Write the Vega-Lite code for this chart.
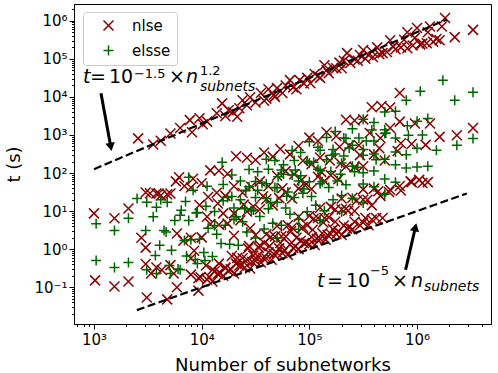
{
"$schema": "https://vega.github.io/schema/vega-lite/v6.json",
"width": 417, "height": 320,
"autosize": {"type": "none"},
"padding": {"left": 74, "top": 4, "right": 7, "bottom": 49},
"config": {
 "view": {"stroke": "black", "strokeWidth": 1},
 "font": "DejaVu Sans",
 "axis": {"domainColor": "black", "tickColor": "black", "labelColor": "black", "titleColor": "black", "labelFont": "DejaVu Sans", "titleFont": "DejaVu Sans", "labelFontSize": 15, "titleFontSize": 18, "titleFontWeight": "normal", "grid": false, "tickWidth": 1, "domainWidth": 1, "labelOverlap": false, "labelBound": false, "labelFlush": false}
},
"datasets": {
 "pts": [
{"n":2570,"t":813,"s":"nlse"},{"n":3550,"t":562,"s":"nlse"},{"n":5130,"t":1096,"s":"nlse"},{"n":6310,"t":1514,"s":"nlse"},{"n":7760,"t":2455,"s":"nlse"},{"n":8130,"t":1175,"s":"nlse"},{"n":9550,"t":2754,"s":"nlse"},{"n":10230,"t":1905,"s":"nlse"},{"n":11220,"t":2239,"s":"nlse"},{"n":13800,"t":3715,"s":"nlse"},{"n":15490,"t":6761,"s":"nlse"},{"n":16600,"t":3162,"s":"nlse"},{"n":19500,"t":3981,"s":"nlse"},{"n":23990,"t":8128,"s":"nlse"},{"n":22390,"t":5012,"s":"nlse"},{"n":28180,"t":9772,"s":"nlse"},{"n":31620,"t":7079,"s":"nlse"},{"n":35480,"t":12590,"s":"nlse"},{"n":39810,"t":8913,"s":"nlse"},{"n":41690,"t":15850,"s":"nlse"},{"n":50120,"t":16980,"s":"nlse"},{"n":56230,"t":12590,"s":"nlse"},{"n":66070,"t":27540,"s":"nlse"},{"n":70790,"t":17780,"s":"nlse"},{"n":81280,"t":27540,"s":"nlse"},{"n":89130,"t":22390,"s":"nlse"},{"n":102300,"t":22910,"s":"nlse"},{"n":112200,"t":39810,"s":"nlse"},{"n":125900,"t":31620,"s":"nlse"},{"n":138000,"t":67610,"s":"nlse"},{"n":151400,"t":41690,"s":"nlse"},{"n":166000,"t":57540,"s":"nlse"},{"n":190500,"t":79430,"s":"nlse"},{"n":223900,"t":141300,"s":"nlse"},{"n":239900,"t":77620,"s":"nlse"},{"n":263000,"t":95500,"s":"nlse"},{"n":316200,"t":169800,"s":"nlse"},{"n":331100,"t":100000,"s":"nlse"},{"n":389000,"t":112200,"s":"nlse"},{"n":426600,"t":199500,"s":"nlse"},{"n":478600,"t":141300,"s":"nlse"},{"n":524800,"t":151400,"s":"nlse"},{"n":562300,"t":309000,"s":"nlse"},{"n":631000,"t":177800,"s":"nlse"},{"n":707900,"t":199500,"s":"nlse"},{"n":812800,"t":501200,"s":"nlse"},{"n":812800,"t":190500,"s":"nlse"},{"n":912000,"t":223900,"s":"nlse"},{"n":1000000,"t":645700,"s":"nlse"},{"n":1122000,"t":251200,"s":"nlse"},{"n":1230000,"t":257000,"s":"nlse"},{"n":1318000,"t":707900,"s":"nlse"},{"n":1413000,"t":281800,"s":"nlse"},{"n":1622000,"t":309000,"s":"nlse"},{"n":1820000,"t":1175000,"s":"nlse"},{"n":2239000,"t":371500,"s":"nlse"},{"n":3311000,"t":575400,"s":"nlse"},{"n":26300,"t":6026,"s":"nlse"},{"n":46770,"t":11220,"s":"nlse"},{"n":60260,"t":19950,"s":"nlse"},{"n":177800,"t":56230,"s":"nlse"},{"n":281800,"t":89130,"s":"nlse"},{"n":354800,"t":125900,"s":"nlse"},
{"n":38020,"t":7943,"s":"nlse"},{"n":47860,"t":10000,"s":"nlse"},{"n":75860,"t":15850,"s":"nlse"},{"n":95500,"t":31620,"s":"nlse"},{"n":120200,"t":35480,"s":"nlse"},{"n":144500,"t":50120,"s":"nlse"},{"n":199500,"t":56230,"s":"nlse"},{"n":208900,"t":89130,"s":"nlse"},{"n":295100,"t":125900,"s":"nlse"},{"n":380200,"t":158500,"s":"nlse"},{"n":446700,"t":131800,"s":"nlse"},{"n":602600,"t":208900,"s":"nlse"},{"n":758600,"t":316200,"s":"nlse"},{"n":955000,"t":354800,"s":"nlse"},{"n":1072000,"t":239900,"s":"nlse"},{"n":1259000,"t":501200,"s":"nlse"},{"n":1514000,"t":331100,"s":"nlse"},{"n":1698000,"t":707900,"s":"nlse"},{"n":17780,"t":4467,"s":"nlse"},{"n":21380,"t":3020,"s":"nlse"},{"n":4169,"t":707.9,"s":"nlse"},
{"n":11220,"t":0.1585,"s":"nlse"},{"n":12590,"t":0.1413,"s":"nlse"},{"n":14130,"t":0.2239,"s":"nlse"},{"n":15850,"t":0.1995,"s":"nlse"},{"n":17780,"t":0.2692,"s":"nlse"},{"n":19950,"t":0.2291,"s":"nlse"},{"n":22390,"t":0.3715,"s":"nlse"},{"n":25120,"t":0.3311,"s":"nlse"},{"n":28180,"t":0.309,"s":"nlse"},{"n":31620,"t":0.4898,"s":"nlse"},{"n":35480,"t":0.4467,"s":"nlse"},{"n":39810,"t":0.5754,"s":"nlse"},{"n":44670,"t":0.5248,"s":"nlse"},{"n":50120,"t":0.7943,"s":"nlse"},{"n":56230,"t":0.7762,"s":"nlse"},{"n":63100,"t":0.7079,"s":"nlse"},{"n":70790,"t":1.072,"s":"nlse"},{"n":79430,"t":1.0,"s":"nlse"},{"n":89130,"t":1.445,"s":"nlse"},{"n":100000,"t":1.349,"s":"nlse"},{"n":112200,"t":1.288,"s":"nlse"},{"n":125900,"t":1.862,"s":"nlse"},{"n":141300,"t":1.778,"s":"nlse"},{"n":158500,"t":2.512,"s":"nlse"},{"n":177800,"t":2.512,"s":"nlse"},{"n":199500,"t":2.344,"s":"nlse"},{"n":223900,"t":3.467,"s":"nlse"},{"n":251200,"t":3.311,"s":"nlse"},{"n":295100,"t":4.266,"s":"nlse"},{"n":354800,"t":4.266,"s":"nlse"},{"n":416900,"t":6.607,"s":"nlse"},{"n":478600,"t":6.607,"s":"nlse"},{"n":3090,"t":0.0537,"s":"nlse"},{"n":4786,"t":0.0479,"s":"nlse"},{"n":5888,"t":0.1,"s":"nlse"},{"n":9333,"t":0.0813,"s":"nlse"},{"n":1023,"t":0.1514,"s":"nlse"},{"n":1549,"t":0.1047,"s":"nlse"},{"n":2089,"t":0.1413,"s":"nlse"},
{"n":13180,"t":0.263,"s":"nlse"},{"n":16600,"t":0.3311,"s":"nlse"},{"n":20890,"t":0.4169,"s":"nlse"},{"n":26300,"t":0.5248,"s":"nlse"},{"n":33110,"t":0.6607,"s":"nlse"},{"n":41690,"t":0.8318,"s":"nlse"},{"n":52480,"t":1.047,"s":"nlse"},{"n":66070,"t":1.318,"s":"nlse"},{"n":83180,"t":1.66,"s":"nlse"},{"n":104700,"t":2.089,"s":"nlse"},{"n":131800,"t":2.63,"s":"nlse"},{"n":166000,"t":3.311,"s":"nlse"},{"n":208900,"t":4.169,"s":"nlse"},{"n":263000,"t":5.248,"s":"nlse"},{"n":331100,"t":6.607,"s":"nlse"},
{"n":11750,"t":0.1862,"s":"nlse"},{"n":14790,"t":0.2344,"s":"nlse"},{"n":18620,"t":0.2951,"s":"nlse"},{"n":23440,"t":0.3715,"s":"nlse"},{"n":29510,"t":0.4677,"s":"nlse"},{"n":37150,"t":0.5888,"s":"nlse"},{"n":46770,"t":0.7413,"s":"nlse"},{"n":58880,"t":0.9333,"s":"nlse"},{"n":74130,"t":1.175,"s":"nlse"},{"n":93330,"t":1.479,"s":"nlse"},{"n":117500,"t":1.862,"s":"nlse"},{"n":147900,"t":2.344,"s":"nlse"},{"n":186200,"t":2.951,"s":"nlse"},{"n":234400,"t":3.715,"s":"nlse"},{"n":316200,"t":5.012,"s":"nlse"},{"n":380200,"t":6.026,"s":"nlse"},
{"n":7943,"t":0.214,"s":"nlse"},{"n":9333,"t":0.174,"s":"nlse"},{"n":10960,"t":0.372,"s":"nlse"},{"n":12590,"t":0.288,"s":"nlse"},{"n":14450,"t":0.417,"s":"nlse"},{"n":16600,"t":0.316,"s":"nlse"},{"n":19050,"t":0.661,"s":"nlse"},{"n":21380,"t":0.589,"s":"nlse"},{"n":23990,"t":0.575,"s":"nlse"},{"n":26920,"t":1.047,"s":"nlse"},{"n":30200,"t":0.676,"s":"nlse"},{"n":33880,"t":1.096,"s":"nlse"},{"n":38020,"t":1.445,"s":"nlse"},{"n":42660,"t":1.202,"s":"nlse"},{"n":47860,"t":2.138,"s":"nlse"},{"n":53700,"t":1.445,"s":"nlse"},{"n":60260,"t":2.138,"s":"nlse"},{"n":67610,"t":2.951,"s":"nlse"},{"n":75860,"t":1.995,"s":"nlse"},{"n":85110,"t":3.548,"s":"nlse"},{"n":95500,"t":4.266,"s":"nlse"},{"n":107200,"t":3.236,"s":"nlse"},{"n":120200,"t":6.607,"s":"nlse"},{"n":134900,"t":5.012,"s":"nlse"},{"n":151400,"t":6.918,"s":"nlse"},{"n":173800,"t":5.248,"s":"nlse"},{"n":199500,"t":10.96,"s":"nlse"},{"n":229100,"t":10.23,"s":"nlse"},{"n":263000,"t":10.0,"s":"nlse"},{"n":316200,"t":19.95,"s":"nlse"},{"n":380200,"t":14.13,"s":"nlse"},{"n":457100,"t":25.12,"s":"nlse"},{"n":562300,"t":36.31,"s":"nlse"},{"n":707900,"t":34.67,"s":"nlse"},{"n":891300,"t":57.54,"s":"nlse"},{"n":1122000,"t":54.95,"s":"nlse"},{"n":1259000,"t":57.54,"s":"nlse"},
{"n":27540,"t":1.202,"s":"nlse"},{"n":34670,"t":1.259,"s":"nlse"},{"n":43650,"t":2.089,"s":"nlse"},{"n":54950,"t":2.188,"s":"nlse"},{"n":69180,"t":3.631,"s":"nlse"},{"n":87100,"t":3.802,"s":"nlse"},{"n":109600,"t":6.31,"s":"nlse"},{"n":138000,"t":6.607,"s":"nlse"},{"n":173800,"t":10.96,"s":"nlse"},{"n":218800,"t":11.48,"s":"nlse"},{"n":275400,"t":19.05,"s":"nlse"},{"n":346700,"t":19.95,"s":"nlse"},{"n":436500,"t":33.11,"s":"nlse"},{"n":549500,"t":31.62,"s":"nlse"},{"n":691800,"t":45.71,"s":"nlse"},{"n":871000,"t":60.26,"s":"nlse"},{"n":1047000,"t":66.07,"s":"nlse"},
{"n":31620,"t":2.344,"s":"nlse"},{"n":39810,"t":2.455,"s":"nlse"},{"n":50120,"t":4.074,"s":"nlse"},{"n":63100,"t":4.266,"s":"nlse"},{"n":79430,"t":7.079,"s":"nlse"},{"n":100000,"t":7.413,"s":"nlse"},{"n":125900,"t":12.3,"s":"nlse"},{"n":158500,"t":12.88,"s":"nlse"},{"n":199500,"t":21.38,"s":"nlse"},{"n":251200,"t":22.39,"s":"nlse"},{"n":316200,"t":37.15,"s":"nlse"},{"n":398100,"t":38.9,"s":"nlse"},
{"n":10000,"t":2.042,"s":"nlse"},{"n":12020,"t":4.571,"s":"nlse"},{"n":14450,"t":4.365,"s":"nlse"},{"n":17380,"t":4.677,"s":"nlse"},{"n":19950,"t":8.71,"s":"nlse"},{"n":22910,"t":5.754,"s":"nlse"},{"n":26300,"t":9.772,"s":"nlse"},{"n":30200,"t":13.18,"s":"nlse"},{"n":34670,"t":11.22,"s":"nlse"},{"n":39810,"t":20.42,"s":"nlse"},{"n":45710,"t":14.13,"s":"nlse"},{"n":52480,"t":21.88,"s":"nlse"},{"n":60260,"t":30.9,"s":"nlse"},{"n":69180,"t":21.38,"s":"nlse"},{"n":79430,"t":38.9,"s":"nlse"},{"n":91200,"t":47.86,"s":"nlse"},{"n":104700,"t":38.02,"s":"nlse"},{"n":120200,"t":79.43,"s":"nlse"},{"n":138000,"t":61.66,"s":"nlse"},{"n":158500,"t":87.1,"s":"nlse"},{"n":186200,"t":69.18,"s":"nlse"},{"n":218800,"t":147.9,"s":"nlse"},{"n":263000,"t":144.5,"s":"nlse"},{"n":316200,"t":151.4,"s":"nlse"},{"n":398100,"t":309,"s":"nlse"},{"n":501200,"t":213.8,"s":"nlse"},{"n":660700,"t":380.2,"s":"nlse"},{"n":891300,"t":575.4,"s":"nlse"},{"n":1202000,"t":549.5,"s":"nlse"},{"n":1622000,"t":891.3,"s":"nlse"},{"n":2344000,"t":977.2,"s":"nlse"},{"n":3311000,"t":1514,"s":"nlse"},
{"n":15850,"t":8.71,"s":"nlse"},{"n":24550,"t":14.79,"s":"nlse"},{"n":37150,"t":24.55,"s":"nlse"},{"n":56230,"t":39.81,"s":"nlse"},{"n":85110,"t":66.07,"s":"nlse"},{"n":128800,"t":107.2,"s":"nlse"},{"n":195000,"t":177.8,"s":"nlse"},{"n":295100,"t":295.1,"s":"nlse"},{"n":446700,"t":446.7,"s":"nlse"},{"n":707900,"t":602.6,"s":"nlse"},
{"n":9550,"t":14.45,"s":"nlse"},{"n":11480,"t":23.44,"s":"nlse"},{"n":13800,"t":30.2,"s":"nlse"},{"n":16600,"t":25.12,"s":"nlse"},{"n":19950,"t":44.67,"s":"nlse"},{"n":23990,"t":30.2,"s":"nlse"},{"n":28840,"t":43.65,"s":"nlse"},{"n":34670,"t":60.26,"s":"nlse"},{"n":41690,"t":44.67,"s":"nlse"},{"n":50120,"t":85.11,"s":"nlse"},{"n":60260,"t":112.2,"s":"nlse"},{"n":72440,"t":93.33,"s":"nlse"},{"n":87100,"t":208.9,"s":"nlse"},{"n":104700,"t":169.8,"s":"nlse"},{"n":125900,"t":257,"s":"nlse"},{"n":154900,"t":213.8,"s":"nlse"},{"n":190500,"t":489.8,"s":"nlse"},{"n":234400,"t":524.8,"s":"nlse"},{"n":288400,"t":537,"s":"nlse"},{"n":363100,"t":1122,"s":"nlse"},{"n":457100,"t":831.8,"s":"nlse"},{"n":562300,"t":1514,"s":"nlse"},{"n":691800,"t":2239,"s":"nlse"},{"n":955000,"t":1995,"s":"nlse"},{"n":1318000,"t":1995,"s":"nlse"},
{"n":3311,"t":29.51,"s":"nlse"},{"n":3981,"t":28.84,"s":"nlse"},{"n":4786,"t":27.54,"s":"nlse"},{"n":5754,"t":60.26,"s":"nlse"},{"n":6918,"t":45.71,"s":"nlse"},{"n":8318,"t":70.79,"s":"nlse"},{"n":10000,"t":53.7,"s":"nlse"},{"n":12020,"t":117.5,"s":"nlse"},{"n":14450,"t":114.8,"s":"nlse"},{"n":17380,"t":95.5,"s":"nlse"},{"n":20890,"t":275.4,"s":"nlse"},{"n":26300,"t":251.2,"s":"nlse"},{"n":31620,"t":218.8,"s":"nlse"},{"n":38020,"t":346.7,"s":"nlse"},{"n":45710,"t":269.2,"s":"nlse"},{"n":53700,"t":426.6,"s":"nlse"},{"n":66070,"t":309,"s":"nlse"},{"n":79430,"t":512.9,"s":"nlse"},{"n":100000,"t":851.1,"s":"nlse"},{"n":120200,"t":691.8,"s":"nlse"},{"n":144500,"t":1175,"s":"nlse"},{"n":177800,"t":933.3,"s":"nlse"},{"n":218800,"t":2512,"s":"nlse"},{"n":263000,"t":2399,"s":"nlse"},{"n":316200,"t":2570,"s":"nlse"},{"n":380200,"t":5370,"s":"nlse"},{"n":467700,"t":5754,"s":"nlse"},{"n":562300,"t":5248,"s":"nlse"},{"n":691800,"t":12590,"s":"nlse"},
{"n":1000,"t":8.71,"s":"nlse"},{"n":1549,"t":6.457,"s":"nlse"},{"n":2089,"t":11.75,"s":"nlse"},{"n":3020,"t":30.9,"s":"nlse"},{"n":3802,"t":28.84,"s":"nlse"},{"n":4169,"t":25.7,"s":"nlse"},{"n":5129,"t":28.84,"s":"nlse"},{"n":6166,"t":77.62,"s":"nlse"},{"n":7943,"t":41.69,"s":"nlse"},{"n":2754,"t":1.995,"s":"nlse"},{"n":3020,"t":1.096,"s":"nlse"},{"n":5888,"t":2.57,"s":"nlse"},{"n":6761,"t":1.66,"s":"nlse"},{"n":7943,"t":1.995,"s":"nlse"},{"n":8511,"t":0.912,"s":"nlse"},{"n":3020,"t":0.4074,"s":"nlse"},{"n":3388,"t":0.2291,"s":"nlse"},{"n":3802,"t":0.3311,"s":"nlse"},{"n":4266,"t":0.2818,"s":"nlse"},{"n":5129,"t":0.3802,"s":"nlse"},{"n":5495,"t":0.2291,"s":"nlse"},{"n":7943,"t":0.5754,"s":"nlse"},{"n":9772,"t":0.182,"s":"nlse"},{"n":11220,"t":7.079,"s":"nlse"},{"n":14130,"t":15.85,"s":"nlse"},{"n":19950,"t":2.239,"s":"nlse"},{"n":28180,"t":3.548,"s":"nlse"},
{"n":5012,"t":0.3715,"s":"elsse"},{"n":6026,"t":0.302,"s":"elsse"},{"n":7244,"t":0.661,"s":"elsse"},{"n":8710,"t":0.537,"s":"elsse"},{"n":10470,"t":0.813,"s":"elsse"},{"n":12590,"t":0.6457,"s":"elsse"},{"n":15140,"t":1.413,"s":"elsse"},{"n":18200,"t":1.349,"s":"elsse"},{"n":21880,"t":1.259,"s":"elsse"},{"n":26300,"t":2.818,"s":"elsse"},{"n":31620,"t":1.95,"s":"elsse"},{"n":38020,"t":3.388,"s":"elsse"},{"n":45710,"t":4.786,"s":"elsse"},{"n":54950,"t":4.266,"s":"elsse"},{"n":66070,"t":8.318,"s":"elsse"},{"n":79430,"t":6.026,"s":"elsse"},{"n":95500,"t":9.55,"s":"elsse"},{"n":114800,"t":14.13,"s":"elsse"},{"n":138000,"t":10.23,"s":"elsse"},{"n":166000,"t":19.95,"s":"elsse"},{"n":199500,"t":25.7,"s":"elsse"},{"n":251200,"t":21.88,"s":"elsse"},{"n":316200,"t":51.29,"s":"elsse"},{"n":398100,"t":43.65,"s":"elsse"},{"n":501200,"t":69.18,"s":"elsse"},{"n":631000,"t":57.54,"s":"elsse"},{"n":794300,"t":134.9,"s":"elsse"},{"n":1000000,"t":144.5,"s":"elsse"},{"n":1259000,"t":151.4,"s":"elsse"},
{"n":50120,"t":1.95,"s":"elsse"},{"n":79430,"t":3.311,"s":"elsse"},{"n":125900,"t":5.623,"s":"elsse"},{"n":199500,"t":9.55,"s":"elsse"},{"n":316200,"t":16.22,"s":"elsse"},{"n":501200,"t":27.54,"s":"elsse"},
{"n":7943,"t":1.778,"s":"elsse"},{"n":9550,"t":1.82,"s":"elsse"},{"n":11480,"t":3.548,"s":"elsse"},{"n":13800,"t":2.455,"s":"elsse"},{"n":16600,"t":4.266,"s":"elsse"},{"n":19950,"t":6.026,"s":"elsse"},{"n":23990,"t":5.248,"s":"elsse"},{"n":28840,"t":10,"s":"elsse"},{"n":34670,"t":7.244,"s":"elsse"},{"n":41690,"t":11.48,"s":"elsse"},{"n":50120,"t":16.98,"s":"elsse"},{"n":60260,"t":12.02,"s":"elsse"},{"n":72440,"t":22.91,"s":"elsse"},{"n":87100,"t":29.51,"s":"elsse"},{"n":104700,"t":23.99,"s":"elsse"},{"n":125900,"t":52.48,"s":"elsse"},{"n":151400,"t":41.69,"s":"elsse"},{"n":182000,"t":61.66,"s":"elsse"},{"n":218800,"t":48.98,"s":"elsse"},{"n":263000,"t":107.2,"s":"elsse"},{"n":316200,"t":102.3,"s":"elsse"},{"n":398100,"t":112.2,"s":"elsse"},{"n":501200,"t":229.1,"s":"elsse"},{"n":631000,"t":166,"s":"elsse"},{"n":794300,"t":302,"s":"elsse"},{"n":1000000,"t":446.7,"s":"elsse"},{"n":1514000,"t":398.1,"s":"elsse"},{"n":2344000,"t":537,"s":"elsse"},{"n":3311000,"t":812.8,"s":"elsse"},
{"n":6310,"t":7.762,"s":"elsse"},{"n":7586,"t":5.623,"s":"elsse"},{"n":9120,"t":9.12,"s":"elsse"},{"n":10960,"t":13.49,"s":"elsse"},{"n":13180,"t":9.772,"s":"elsse"},{"n":15850,"t":18.62,"s":"elsse"},{"n":19050,"t":23.99,"s":"elsse"},{"n":22910,"t":19.95,"s":"elsse"},{"n":27540,"t":43.65,"s":"elsse"},{"n":33110,"t":35.48,"s":"elsse"},{"n":39810,"t":52.48,"s":"elsse"},{"n":47860,"t":41.69,"s":"elsse"},{"n":57540,"t":93.33,"s":"elsse"},{"n":69180,"t":89.13,"s":"elsse"},{"n":83180,"t":85.11,"s":"elsse"},{"n":100000,"t":182,"s":"elsse"},{"n":120200,"t":125.9,"s":"elsse"},{"n":144500,"t":223.9,"s":"elsse"},{"n":173800,"t":316.2,"s":"elsse"},{"n":208900,"t":281.8,"s":"elsse"},{"n":251200,"t":537,"s":"elsse"},{"n":316200,"t":416.9,"s":"elsse"},{"n":398100,"t":691.8,"s":"elsse"},{"n":501200,"t":1096,"s":"elsse"},{"n":631000,"t":831.8,"s":"elsse"},{"n":812800,"t":1738,"s":"elsse"},{"n":1000000,"t":2291,"s":"elsse"},{"n":1259000,"t":2692,"s":"elsse"},
{"n":15850,"t":50.12,"s":"elsse"},{"n":19050,"t":89.13,"s":"elsse"},{"n":22910,"t":61.66,"s":"elsse"},{"n":27540,"t":123,"s":"elsse"},{"n":33110,"t":107.2,"s":"elsse"},{"n":39810,"t":229.1,"s":"elsse"},{"n":47860,"t":213.8,"s":"elsse"},{"n":57540,"t":166,"s":"elsse"},{"n":69180,"t":389,"s":"elsse"},{"n":83180,"t":346.7,"s":"elsse"},{"n":100000,"t":660.7,"s":"elsse"},{"n":120200,"t":478.6,"s":"elsse"},{"n":144500,"t":851.1,"s":"elsse"},{"n":173800,"t":1230,"s":"elsse"},{"n":208900,"t":831.8,"s":"elsse"},{"n":251200,"t":1445,"s":"elsse"},{"n":316200,"t":2570,"s":"elsse"},{"n":398100,"t":2138,"s":"elsse"},{"n":501200,"t":3981,"s":"elsse"},{"n":631000,"t":4169,"s":"elsse"},{"n":794300,"t":8128,"s":"elsse"},{"n":1072000,"t":14130,"s":"elsse"},{"n":1738000,"t":27540,"s":"elsse"},{"n":2239000,"t":8128,"s":"elsse"},{"n":3311000,"t":13180,"s":"elsse"},
{"n":19950,"t":12.02,"s":"elsse"},{"n":25120,"t":11.48,"s":"elsse"},{"n":31620,"t":22.91,"s":"elsse"},{"n":39810,"t":21.38,"s":"elsse"},{"n":50120,"t":40.74,"s":"elsse"},{"n":63100,"t":31.62,"s":"elsse"},{"n":79430,"t":61.66,"s":"elsse"},{"n":100000,"t":58.88,"s":"elsse"},{"n":125900,"t":114.8,"s":"elsse"},{"n":158500,"t":109.6,"s":"elsse"},{"n":199500,"t":182,"s":"elsse"},{"n":251200,"t":151.4,"s":"elsse"},{"n":316200,"t":295.1,"s":"elsse"},{"n":398100,"t":316.2,"s":"elsse"},
{"n":31620,"t":60.26,"s":"elsse"},{"n":41690,"t":125.9,"s":"elsse"},{"n":54950,"t":120.2,"s":"elsse"},{"n":72440,"t":213.8,"s":"elsse"},{"n":95500,"t":204.2,"s":"elsse"},{"n":125900,"t":398.1,"s":"elsse"},{"n":166000,"t":416.9,"s":"elsse"},{"n":218800,"t":812.8,"s":"elsse"},{"n":288400,"t":831.8,"s":"elsse"},{"n":380200,"t":1349,"s":"elsse"},{"n":501200,"t":1380,"s":"elsse"},
{"n":13180,"t":4.169,"s":"elsse"},{"n":17380,"t":22.91,"s":"elsse"},{"n":20890,"t":7.079,"s":"elsse"},{"n":25700,"t":35.48,"s":"elsse"},{"n":30200,"t":10.72,"s":"elsse"},{"n":36310,"t":53.7,"s":"elsse"},{"n":43650,"t":16.6,"s":"elsse"},{"n":51290,"t":79.43,"s":"elsse"},{"n":61660,"t":24.55,"s":"elsse"},{"n":74130,"t":120.2,"s":"elsse"},{"n":89130,"t":38.02,"s":"elsse"},{"n":109600,"t":190.5,"s":"elsse"},{"n":131800,"t":58.88,"s":"elsse"},{"n":162200,"t":295.1,"s":"elsse"},{"n":195000,"t":93.33,"s":"elsse"},{"n":234400,"t":457.1,"s":"elsse"},{"n":281800,"t":141.3,"s":"elsse"},{"n":338800,"t":691.8,"s":"elsse"},{"n":416900,"t":223.9,"s":"elsse"},{"n":512900,"t":1122,"s":"elsse"},{"n":631000,"t":354.8,"s":"elsse"},{"n":831800,"t":977.2,"s":"elsse"},{"n":1122000,"t":1000,"s":"elsse"},
{"n":1047,"t":4.677,"s":"elsse"},{"n":1549,"t":3.09,"s":"elsse"},{"n":2089,"t":6.457,"s":"elsse"},{"n":2512,"t":21.38,"s":"elsse"},{"n":3090,"t":16.98,"s":"elsse"},{"n":3802,"t":12.59,"s":"elsse"},{"n":4467,"t":3.09,"s":"elsse"},{"n":3020,"t":3.09,"s":"elsse"},{"n":4786,"t":16.98,"s":"elsse"},{"n":6457,"t":10.47,"s":"elsse"},{"n":7586,"t":77.62,"s":"elsse"},{"n":1047,"t":0.5012,"s":"elsse"},{"n":1549,"t":0.3311,"s":"elsse"},{"n":2089,"t":0.4467,"s":"elsse"},{"n":3090,"t":0.2884,"s":"elsse"},{"n":3802,"t":0.2291,"s":"elsse"},{"n":6310,"t":0.2884,"s":"elsse"},{"n":5129,"t":0.2291,"s":"elsse"},{"n":9120,"t":0.4169,"s":"elsse"},{"n":10720,"t":0.5012,"s":"elsse"},{"n":4074,"t":1.259,"s":"elsse"},{"n":5248,"t":0.9333,"s":"elsse"},{"n":6918,"t":1.698,"s":"elsse"},{"n":3715,"t":0.6761,"s":"elsse"},{"n":4677,"t":2.818,"s":"elsse"},{"n":5623,"t":5.623,"s":"elsse"},{"n":3548,"t":7.079,"s":"elsse"},{"n":7079,"t":17.78,"s":"elsse"},{"n":8913,"t":8.913,"s":"elsse"},{"n":15490,"t":190.5,"s":"elsse"},{"n":4169,"t":19.95,"s":"elsse"},{"n":8318,"t":35.48,"s":"elsse"},{"n":11220,"t":44.67,"s":"elsse"}
 ],
 "lines": [
  {"line":"a","n":1000,"t":125.9},{"line":"a","n":1900000,"t":1083000},
  {"line":"b","n":2500,"t":0.025},{"line":"b","n":2900000,"t":29}
 ],
 "arrows": [
  {"n":1161,"t":12500,"n2":1432,"t2":486},
  {"n":783000,"t":0.287,"n2":966000,"t2":3.77}
 ]
},
"layer": [
 {
  "data": {"name": "pts"},
  "mark": {"type": "point", "filled": false, "strokeWidth": 1.5, "size": 100, "opacity": 1},
  "encoding": {
   "x": {"field": "n", "type": "quantitative",
    "scale": {"type": "log", "domain": [652, 4864000], "nice": false},
    "axis": {"title": "Number of subnetworks", "titlePadding": 9, "labelPadding": 3,
     "values": [700,800,900,1000,2000,3000,4000,5000,6000,7000,8000,9000,10000,20000,30000,40000,50000,60000,70000,80000,90000,100000,200000,300000,400000,500000,600000,700000,800000,900000,1000000,2000000,3000000,4000000],
     "labelExpr": "abs(log(datum.value)/LN10 - round(log(datum.value)/LN10)) < 0.001 ? '10' + ['⁰','¹','²','³','⁴','⁵','⁶'][round(log(datum.value)/LN10)] : ''",
     "tickSize": {"condition": {"test": "abs(log(datum.value)/LN10 - round(log(datum.value)/LN10)) < 0.001", "value": 5}, "value": 2.5}}},
   "y": {"field": "t", "type": "quantitative",
    "scale": {"type": "log", "domain": [0.01081, 2754000], "nice": false},
    "axis": {"title": "t (s)", "titlePadding": 10, "labelPadding": 2,
     "values": [0.02,0.03,0.04,0.05,0.06,0.07,0.08,0.09,0.1,0.2,0.3,0.4,0.5,0.6,0.7,0.8,0.9,1,2,3,4,5,6,7,8,9,10,20,30,40,50,60,70,80,90,100,200,300,400,500,600,700,800,900,1000,2000,3000,4000,5000,6000,7000,8000,9000,10000,20000,30000,40000,50000,60000,70000,80000,90000,100000,200000,300000,400000,500000,600000,700000,800000,900000,1000000,2000000],
     "labelExpr": "abs(log(datum.value)/LN10 - round(log(datum.value)/LN10)) < 0.001 ? '10' + ['⁻²','⁻¹','⁰','¹','²','³','⁴','⁵','⁶'][round(log(datum.value)/LN10) + 2] : ''",
     "tickSize": {"condition": {"test": "abs(log(datum.value)/LN10 - round(log(datum.value)/LN10)) < 0.001", "value": 5}, "value": 2.5}}},
   "color": {"field": "s", "type": "nominal", "scale": {"domain": ["nlse", "elsse"], "range": ["#8b0000", "#006400"]},
    "legend": {"title": null, "orient": "none", "legendX": 9, "legendY": 8, "padding": 6, "symbolOffset": 12, "labelOffset": 16, "rowPadding": 8, "labelFontSize": 15, "labelFont": "DejaVu Sans", "labelColor": "black", "symbolSize": 100, "symbolStrokeWidth": 1.5, "fillColor": "rgba(255,255,255,0.8)", "strokeColor": "#cccccc", "cornerRadius": 3}},
   "shape": {"field": "s", "type": "nominal", "scale": {"domain": ["nlse", "elsse"], "range": ["M-1,-1L1,1M-1,1L1,-1", "M-1,0L1,0M0,-1L0,1"]},
    "legend": {"title": null, "orient": "none", "legendX": 9, "legendY": 8, "padding": 6, "symbolOffset": 12, "labelOffset": 16, "rowPadding": 8, "labelFontSize": 15, "labelFont": "DejaVu Sans", "labelColor": "black", "symbolSize": 100, "symbolStrokeWidth": 1.5, "fillColor": "rgba(255,255,255,0.8)", "strokeColor": "#cccccc", "cornerRadius": 3}}
  }
 },
 {
  "data": {"name": "lines"},
  "mark": {"type": "line", "color": "black", "strokeWidth": 2.2, "strokeDash": [8, 3.5]},
  "encoding": {"x": {"field": "n", "type": "quantitative"}, "y": {"field": "t", "type": "quantitative"}, "detail": {"field": "line", "type": "nominal"}}
 },
 {
  "data": {"name": "arrows"},
  "mark": {"type": "rule", "color": "black", "strokeWidth": 3},
  "encoding": {"x": {"field": "n", "type": "quantitative"}, "y": {"field": "t", "type": "quantitative"}, "x2": {"field": "n2"}, "y2": {"field": "t2"}}
 },
 {
  "data": {"values": [{"n": 1432, "t": 486}]},
  "mark": {"type": "point", "shape": "triangle-up", "filled": true, "color": "black", "opacity": 1, "size": 90, "angle": 169.7},
  "encoding": {"x": {"field": "n", "type": "quantitative"}, "y": {"field": "t", "type": "quantitative"}}
 },
 {
  "data": {"values": [{"n": 966000, "t": 3.77}]},
  "mark": {"type": "point", "shape": "triangle-up", "filled": true, "color": "black", "opacity": 1, "size": 90, "angle": 13},
  "encoding": {"x": {"field": "n", "type": "quantitative"}, "y": {"field": "t", "type": "quantitative"}}
 },
 {
  "data": {"values": [{"n": 918, "t": 22960, "label": "="}, {"n": 1377, "t": 22960, "label": "10"}, {"n": 4966, "t": 22960, "label": "×"}, {"n": 145600, "t": 0.1042, "label": "="}, {"n": 218800, "t": 0.1042, "label": "10"}, {"n": 584800, "t": 0.1042, "label": "×"}]},
  "mark": {"type": "text", "align": "left", "baseline": "alphabetic", "font": "DejaVu Sans", "fontSize": 19, "color": "black"},
  "encoding": {"x": {"field": "n", "type": "quantitative"}, "y": {"field": "t", "type": "quantitative"}, "text": {"field": "label"}}
 },
 {
  "data": {"values": [{"n": 791, "t": 22960, "label": "t"}, {"n": 7145, "t": 22960, "label": "n"}, {"n": 117800, "t": 0.1042, "label": "t"}, {"n": 877000, "t": 0.1042, "label": "n"}]},
  "mark": {"type": "text", "align": "left", "baseline": "alphabetic", "font": "DejaVu Sans", "fontSize": 19, "fontStyle": "italic", "color": "black"},
  "encoding": {"x": {"field": "n", "type": "quantitative"}, "y": {"field": "t", "type": "quantitative"}, "text": {"field": "label"}}
 },
 {
  "data": {"values": [{"n": 2350, "t": 31050, "label": "−1.5"}, {"n": 9638, "t": 37000, "label": "1.2"}, {"n": 365600, "t": 0.2032, "label": "−5"}]},
  "mark": {"type": "text", "align": "left", "baseline": "alphabetic", "font": "DejaVu Sans", "fontSize": 13, "color": "black"},
  "encoding": {"x": {"field": "n", "type": "quantitative"}, "y": {"field": "t", "type": "quantitative"}, "text": {"field": "label"}}
 },
 {
  "data": {"values": [{"n": 9638, "t": 14130, "label": "subnets"}, {"n": 1159000, "t": 0.0818, "label": "subnets"}]},
  "mark": {"type": "text", "align": "left", "baseline": "alphabetic", "font": "DejaVu Sans", "fontSize": 14, "fontStyle": "italic", "color": "black"},
  "encoding": {"x": {"field": "n", "type": "quantitative"}, "y": {"field": "t", "type": "quantitative"}, "text": {"field": "label"}}
 }
]
}
